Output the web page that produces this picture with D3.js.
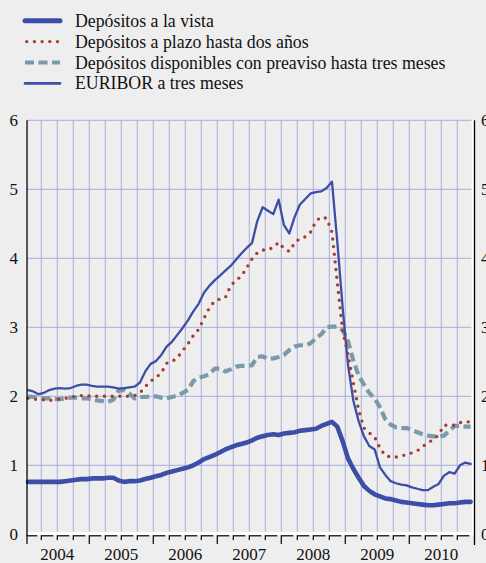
<!DOCTYPE html>
<html>
<head>
<meta charset="utf-8">
<script src="https://cdn.jsdelivr.net/npm/d3@7"></script>
<style>
	html, body { margin: 0; padding: 0; background: #eeeeee; overflow: hidden; }
	svg { display: block; }
</style>
</head>
<body>
<script>
// monthly series, Jan 2004 - Dec 2010
var startYear = 2004;
var vista = [
	0.76,0.76,0.76,0.76,0.76,0.76,0.76,0.77,0.78,0.79,0.80,0.80,
	0.81,0.81,0.81,0.82,0.82,0.78,0.76,0.77,0.77,0.78,0.80,0.82,
	0.84,0.86,0.89,0.91,0.93,0.95,0.97,1.00,1.04,1.09,1.12,1.15,
	1.19,1.23,1.26,1.29,1.31,1.33,1.36,1.40,1.42,1.44,1.45,1.44,
	1.46,1.47,1.48,1.50,1.51,1.52,1.53,1.57,1.60,1.63,1.56,1.35,
	1.10,0.95,0.82,0.70,0.63,0.58,0.55,0.52,0.51,0.49,0.47,0.46,
	0.45,0.44,0.43,0.42,0.42,0.43,0.44,0.45,0.45,0.46,0.47,0.47
];
var plazo = [
	1.97,1.96,1.95,1.95,1.94,1.95,1.96,1.97,1.99,2.00,2.01,2.01,
	2.00,2.00,2.00,2.00,2.00,2.00,2.00,2.00,2.01,2.05,2.14,2.22,
	2.27,2.34,2.48,2.50,2.56,2.66,2.76,2.88,2.97,3.13,3.28,3.38,
	3.41,3.43,3.60,3.68,3.74,3.86,3.99,4.08,4.12,4.12,4.16,4.23,
	4.14,4.10,4.22,4.29,4.31,4.38,4.54,4.60,4.58,4.38,3.65,2.95,
	2.60,2.20,1.80,1.54,1.47,1.41,1.25,1.14,1.12,1.12,1.13,1.16,
	1.18,1.21,1.27,1.33,1.37,1.44,1.58,1.58,1.58,1.62,1.63,1.63
];
var preaviso = [
	2.00,1.99,1.98,1.97,1.97,1.96,1.96,1.97,1.98,1.98,1.97,1.97,
	1.96,1.94,1.93,1.92,1.95,2.08,2.09,2.04,1.97,1.99,1.99,2.00,
	2.00,1.98,1.97,1.99,2.01,2.05,2.09,2.22,2.27,2.29,2.32,2.40,
	2.40,2.36,2.39,2.43,2.44,2.44,2.45,2.57,2.58,2.54,2.55,2.57,
	2.60,2.67,2.72,2.74,2.74,2.77,2.84,2.90,3.00,3.01,3.01,2.96,
	2.80,2.52,2.30,2.17,2.05,1.97,1.84,1.67,1.59,1.55,1.54,1.54,
	1.51,1.48,1.45,1.43,1.42,1.41,1.43,1.50,1.57,1.57,1.56,1.56
];
var euribor = [
	2.09,2.07,2.03,2.05,2.09,2.11,2.12,2.11,2.12,2.15,2.17,2.17,
	2.15,2.14,2.14,2.14,2.13,2.11,2.12,2.13,2.14,2.20,2.36,2.47,
	2.51,2.60,2.72,2.79,2.89,2.99,3.10,3.23,3.34,3.50,3.60,3.68,
	3.75,3.82,3.89,3.98,4.07,4.15,4.22,4.54,4.74,4.69,4.64,4.85,
	4.48,4.36,4.60,4.78,4.86,4.94,4.96,4.97,5.02,5.11,4.24,3.29,
	2.46,1.94,1.64,1.42,1.28,1.23,0.97,0.86,0.77,0.74,0.72,0.71,
	0.68,0.66,0.64,0.64,0.69,0.73,0.85,0.90,0.88,1.00,1.04,1.02
];
var years = [2004, 2005, 2006, 2007, 2008, 2009, 2010];
var yTicks = [0, 1, 2, 3, 4, 5, 6];
var legendLabels = [
	'Depósitos a la vista',
	'Depósitos a plazo hasta dos años',
	'Depósitos disponibles con preaviso hasta tres meses',
	'EURIBOR a tres meses'
];

var blue = '#3c4ea6',
	red = '#a53d2d',
	grey = '#7a99a9',
	grid = '#a9abe0',
	font = '"Liberation Serif", "Times New Roman", Times, "DejaVu Serif", serif';

var svg = d3.select('body').append('svg')
	.attr('width', 486)
	.attr('height', 563)
	.attr('font-family', font);

var x = d3.scaleLinear().domain([2004, 2011]).range([25.3, 473.3]);
var y = d3.scaleLinear().domain([0, 6]).range([534.3, 120.3]);

var left = 27, right = 471.5;

// styles of the four series, same order as legend
var styles = [
	{ data: vista, stroke: blue, width: 4.6, dash: null, cap: 'round' },
	{ data: plazo, stroke: red, width: 3.4, dash: '0 7.7', cap: 'round' },
	{ data: preaviso, stroke: grey, width: 4.2, dash: '9 4.5', cap: 'butt' },
	{ data: euribor, stroke: blue, width: 2.3, dash: null, cap: 'round' }
];

// gridlines, quarterly vertical and unit horizontal
var quarters = d3.range(1, 28).map(function(i) { return 2004 + i / 4; });
svg.append('g').selectAll('line')
	.data(quarters)
	.enter().append('line')
	.attr('x1', function(d) { return x(d); })
	.attr('x2', function(d) { return x(d); })
	.attr('y1', y(6))
	.attr('y2', 532)
	.attr('stroke', grid)
	.attr('stroke-width', 1);

svg.append('g').selectAll('line')
	.data(yTicks.slice(1))
	.enter().append('line')
	.attr('x1', left)
	.attr('x2', right)
	.attr('y1', function(d) { return y(d); })
	.attr('y2', function(d) { return y(d); })
	.attr('stroke', grid)
	.attr('stroke-width', 1);

// white strips along the frame
svg.append('rect').attr('x', left).attr('y', 532).attr('width', 446).attr('height', 3).attr('fill', '#fff');
svg.append('rect').attr('x', 471.8).attr('y', 120).attr('width', 2.2).attr('height', 415).attr('fill', '#fff');
svg.append('rect').attr('x', 25.5).attr('y', 120).attr('width', 1).attr('height', 415).attr('fill', '#fff');

// series
var line = d3.line()
	.x(function(d, i) { return x(startYear + (i + 0.5) / 12); })
	.y(function(d) { return y(d); });

var order = [2, 3, 1, 0];
order.forEach(function(k) {
	var s = styles[k];
	svg.append('path')
		.datum(s.data)
		.attr('d', line)
		.attr('fill', 'none')
		.attr('stroke', s.stroke)
		.attr('stroke-width', s.width)
		.attr('stroke-linejoin', 'round')
		.attr('stroke-linecap', s.cap)
		.attr('stroke-dasharray', s.dash);
});

// axes frame
svg.append('line')
	.attr('x1', left).attr('x2', left)
	.attr('y1', y(6)).attr('y2', 536)
	.attr('stroke', '#000').attr('stroke-width', 1.3);
svg.append('line')
	.attr('x1', 474.5).attr('x2', 474.5)
	.attr('y1', y(6)).attr('y2', 545)
	.attr('stroke', '#000').attr('stroke-width', 1.3);

// bottom axis ticks, broken baseline
var ticks = d3.range(0, 29).map(function(i) { return 2004 + i / 4; });
svg.append('g').selectAll('line')
	.data(ticks.slice(0, -1))
	.enter().append('line')
	.attr('x1', function(d) { return x(d) + (d === 2004 ? 1.7 : 0); })
	.attr('x2', function(d) { return x(d + 0.25) - 4; })
	.attr('y1', 535.8)
	.attr('y2', 535.8)
	.attr('stroke', '#000')
	.attr('stroke-width', 1.2);
svg.append('g').selectAll('line')
	.data(ticks.slice(0, -1))
	.enter().append('line')
	.attr('x1', function(d) { return x(d) + (d === 2004 ? 1.7 : 0); })
	.attr('x2', function(d) { return x(d) + (d === 2004 ? 1.7 : 0); })
	.attr('y1', 535.2)
	.attr('y2', function(d) { return d % 1 === 0 ? 544 : 540; })
	.attr('stroke', '#000')
	.attr('stroke-width', 1.2);

// year labels
svg.append('g').selectAll('text')
	.data(years)
	.enter().append('text')
	.text(function(d) { return d; })
	.attr('x', function(d) { return x(d + 0.5); })
	.attr('y', 560)
	.attr('text-anchor', 'middle')
	.attr('fill', '#111')
	.attr('font-size', 17);

// left and right value labels
svg.append('g').selectAll('text')
	.data(yTicks)
	.enter().append('text')
	.text(function(d) { return d; })
	.attr('x', 18)
	.attr('y', function(d) { return y(d) + 6; })
	.attr('text-anchor', 'end')
	.attr('fill', '#111')
	.attr('font-size', 17);
svg.append('g').selectAll('text')
	.data(yTicks)
	.enter().append('text')
	.text(function(d) { return d; })
	.attr('x', 481)
	.attr('y', function(d) { return y(d) + 6; })
	.attr('text-anchor', 'start')
	.attr('fill', '#111')
	.attr('font-size', 17);

// legend
var legend = svg.append('g').selectAll('g')
	.data(styles)
	.enter().append('g')
	.attr('transform', function(d, i) { return 'translate(0,' + (20.7 + i * 20.9) + ')'; });

legend.append('line')
	.attr('x1', function(d, i) { return i === 1 ? 26.7 : 25; })
	.attr('x2', 60)
	.attr('y1', 0)
	.attr('y2', 0)
	.attr('stroke', function(d) { return d.stroke; })
	.attr('stroke-width', function(d, i) { return i === 0 ? 5 : (i === 3 ? 2.6 : d.width); })
	.attr('stroke-linecap', function(d) { return d.cap; })
	.attr('stroke-dasharray', function(d) { return d.dash; });

legend.append('text')
	.text(function(d, i) { return legendLabels[i]; })
	.attr('x', 75)
	.attr('y', 6)
	.attr('fill', '#111')
	.attr('font-size', 17.8);
</script>
</body>
</html>
